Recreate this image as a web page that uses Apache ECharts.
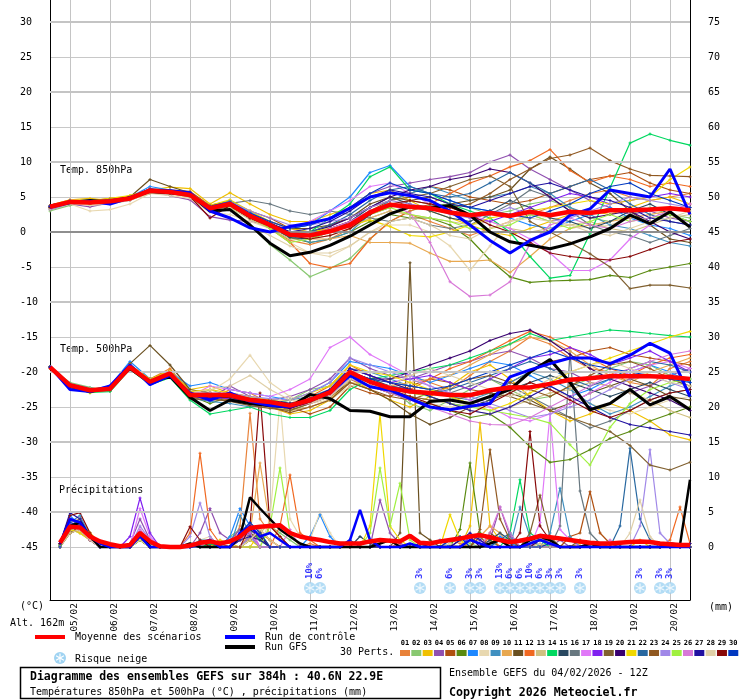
<!DOCTYPE html>
<html><head><meta charset="utf-8">
<script src="https://cdn.jsdelivr.net/npm/echarts@6/dist/echarts.min.js"></script>
<style>html,body{margin:0;padding:0;background:#fff}#c{width:740px;height:700px}</style>
</head><body><div id="c"></div>
<script>
// ---- tick / category labels ----
const dateLabels = ['05/02','06/02','07/02','08/02','09/02','10/02','11/02','12/02','13/02','14/02','15/02','16/02','17/02','18/02','19/02','20/02'];
// ---- snow risk (6h step index, %) ----
const snowIdx = [26,27,37,40,42,43,45,46,47,48,49,50,51,53,59,61,62];
const snowPct = [10,6,3,6,3,3,13,6,6,10,6,3,3,3,3,3,3];
// ---- member colours ----
const pertColors = ['#e8823a','#88c870','#f0c000','#9050b0','#b05010','#5a8a10','#1e88ff','#e8d8b0','#4090c0','#e8a850','#6a5020','#f06820','#d0c080','#00d860','#284860','#687880','#e078f8','#8020f0','#806030','#380070','#f0d800','#2868a0','#905820','#a088e8','#a0f040','#d878d8','#2010a0','#e0d0a8','#880808','#0038c0'];

// ---- 850 hPa (12h steps) ----
const meanT850 = [3.6,4.3,4.2,4.4,4.8,5.9,5.7,5.3,3.4,4.0,2.3,1.0,-0.4,-0.5,0.1,1.0,2.8,3.9,3.6,3.4,2.8,2.4,2.7,2.3,2.9,2.4,2.9,2.7,3.1,3.1,3.2,3.4,3.1];
const ctrlT850 = [3.5,4.2,4.4,4.0,4.9,6.0,5.9,5.6,3.0,2.0,0.6,0.0,0.8,1.3,1.9,3.4,5.0,5.6,5.2,4.5,3.0,1.0,-1.2,-3.0,-1.2,0.0,2.4,3.3,6.0,5.5,5.0,9.0,2.5];
const gfsT850 = [3.7,4.2,4.5,4.3,4.9,5.8,5.6,5.4,3.0,3.2,1.0,-1.6,-3.4,-2.9,-1.9,-0.6,1.0,2.6,3.6,3.5,3.8,2.4,0.0,-1.4,-1.9,-2.4,-1.7,-0.7,0.5,2.4,1.2,2.9,0.7];
const t850_01 = [3.4,4.5,4.0,4.6,4.9,6.2,5.5,5.0,3.0,3.6,2.0,0.5,-1.2,-1.8,-1.0,0.5,2.0,3.0,2.5,1.5,0.5,-0.5,0.5,1.5,2.5,3.5,4.5,5.5,6.0,5.0,4.5,5.0,5.5];
const t850_02 = [3.0,3.8,4.2,4.0,4.6,5.6,5.4,5.5,3.6,3.5,1.0,-1.8,-4.0,-6.4,-5.2,-3.8,-1.0,1.5,3.0,3.8,4.0,3.5,2.5,3.0,4.0,4.5,3.5,2.0,1.5,2.5,3.5,2.5,2.0];
const t850_03 = [3.8,4.6,4.8,4.5,5.2,6.0,6.4,6.2,4.0,5.6,4.0,2.5,1.5,1.5,2.5,3.5,5.5,6.0,4.5,3.0,2.0,1.0,0.0,-0.5,0.5,1.5,2.5,3.0,2.5,3.5,4.5,5.0,4.0];
const t850_04 = [3.2,4.0,3.6,4.2,4.5,5.8,5.2,4.6,2.2,1.7,1.5,1.0,0.5,1.0,2.0,3.5,5.5,6.5,7.0,7.5,7.9,8.5,10.0,11.0,9.0,7.5,6.0,4.5,3.5,2.5,3.0,2.0,1.5];
const t850_05 = [3.6,4.2,4.4,4.8,5.0,6.0,6.0,5.8,3.8,4.4,3.0,2.0,0.5,0.0,0.5,1.5,3.0,4.5,5.5,6.5,6.0,5.0,4.5,4.0,4.5,5.5,6.5,7.5,8.0,8.5,7.0,6.0,5.5];
const t850_06 = [3.5,4.2,4.0,4.3,4.6,5.6,5.5,5.0,3.0,3.6,2.2,0.8,-0.8,-1.5,-1.0,0.0,1.5,2.5,2.0,2.0,1.0,-1.0,-4.0,-6.4,-7.2,-7.0,-6.9,-6.8,-6.2,-6.5,-5.5,-5.0,-4.5];
const t850_07 = [3.6,4.4,4.5,4.6,5.0,6.5,6.0,5.6,3.5,4.5,2.8,1.5,0.5,1.0,3.0,5.0,8.5,9.5,6.5,5.5,4.5,3.5,3.0,2.0,1.0,0.5,1.5,2.5,3.5,2.0,1.0,0.5,-0.5];
const t850_08 = [3.3,4.0,3.0,3.2,4.0,5.5,5.2,4.8,2.8,2.5,1.5,0.5,-1.5,-3.0,-3.5,-2.0,0.0,1.0,1.0,0.0,-2.0,-5.5,-2.0,1.5,2.5,2.0,1.0,0.5,1.0,2.0,2.5,3.0,3.5];
const t850_09 = [3.7,4.4,4.3,4.4,4.9,6.0,5.8,5.4,3.6,4.2,2.5,1.2,-0.5,-1.5,-1.0,0.0,2.5,4.5,5.5,6.5,5.5,4.5,5.0,5.5,6.5,5.5,3.5,2.5,1.0,0.5,-0.5,-1.5,-2.0];
const t850_10 = [3.5,4.3,4.1,4.5,4.8,5.7,5.6,5.2,3.2,3.9,2.0,0.5,-0.5,-1.0,-1.0,-0.5,-1.5,-1.5,-1.6,-3.0,-4.2,-4.2,-4.0,-5.8,-3.5,-1.0,0.5,1.0,1.5,2.0,2.5,3.0,3.5];
const t850_11 = [3.6,4.5,4.4,4.6,5.0,7.5,6.5,5.6,3.4,4.0,2.5,1.5,0.5,0.5,1.0,2.0,4.0,5.0,4.5,5.0,4.0,4.5,5.0,6.0,9.0,10.7,9.0,7.0,5.5,3.0,1.0,-1.0,-1.5];
const t850_12 = [3.7,4.4,4.3,4.4,4.8,6.2,5.8,5.2,3.3,3.8,2.2,0.5,-1.5,-4.5,-5.1,-4.5,-1.0,1.5,3.0,4.0,5.5,7.0,8.0,9.3,10.2,11.8,8.8,7.1,8.0,7.5,6.5,7.0,6.5];
const t850_13 = [3.6,4.2,4.0,4.2,4.6,5.5,5.6,5.0,3.0,3.5,1.8,0.5,-1.0,-1.0,-0.5,0.5,2.0,3.0,2.5,2.0,1.5,1.0,1.5,0.5,0.0,0.5,1.0,1.5,0.5,0.0,1.0,2.0,2.5];
const t850_14 = [3.4,4.1,4.3,4.5,4.9,5.9,5.7,5.4,3.5,4.2,2.3,1.0,-0.5,0.0,2.0,4.0,7.9,9.3,6.0,5.5,4.0,3.0,2.0,0.0,-3.5,-6.6,-6.2,-0.2,6.3,12.7,14.0,13.1,12.4];
const t850_15 = [3.5,4.3,4.2,4.3,4.7,5.8,5.6,5.1,3.2,3.8,2.0,0.8,-0.8,-1.0,0.0,1.5,3.5,5.0,4.0,3.0,2.0,1.5,3.0,4.5,3.5,2.0,1.5,0.5,1.5,3.0,4.0,2.5,1.5];
const t850_16 = [3.6,4.4,4.3,4.5,4.9,5.9,5.8,5.4,3.5,4.1,4.5,4.0,3.0,2.5,3.0,2.5,2.0,1.5,2.0,1.0,0.5,1.0,2.5,4.0,6.0,5.0,3.0,1.0,0.0,-0.5,-1.5,-0.5,0.5];
const t850_17 = [3.4,4.6,4.4,4.5,4.8,5.8,5.5,5.0,3.3,3.8,2.5,1.5,0.5,1.5,3.0,4.5,6.5,7.0,5.5,4.0,3.0,2.5,1.5,0.5,-1.0,-3.0,-5.5,-5.5,-4.0,-1.0,1.0,3.0,4.0];
const t850_18 = [3.7,4.4,4.2,4.3,4.7,5.9,5.7,5.3,3.4,4.0,2.3,1.0,-0.3,-0.5,0.5,1.5,3.0,4.0,3.5,3.5,3.0,2.0,1.5,2.5,3.5,4.5,5.5,5.0,4.0,4.5,5.0,5.5,5.0];
const t850_19 = [3.5,4.2,4.2,4.4,4.8,5.8,5.7,5.2,3.4,4.0,2.4,1.2,0.0,0.0,1.0,2.0,3.5,4.5,5.0,5.5,6.5,7.5,8.0,6.5,1.5,0.0,-1.5,-3.1,-5.0,-8.1,-7.6,-7.6,-8.0];
const t850_20 = [3.6,4.3,4.3,4.4,4.8,5.9,5.8,5.3,3.5,4.0,2.5,1.3,0.0,0.0,0.8,2.0,3.5,5.0,6.0,6.5,7.5,8.0,9.0,8.5,7.0,5.0,3.0,2.0,2.5,3.0,1.5,0.0,-1.0];
const t850_21 = [3.8,4.6,4.5,4.8,5.2,6.0,5.9,5.5,3.8,4.6,3.0,1.5,0.5,0.0,0.5,1.0,1.7,0.8,-0.5,-0.7,0.0,1.0,2.0,2.5,3.0,3.5,4.0,4.5,4.0,4.5,5.0,7.5,9.3];
const t850_22 = [3.6,4.3,4.2,4.4,4.8,5.9,5.7,5.3,3.3,4.0,2.4,1.0,-0.2,0.0,1.0,2.5,4.5,6.0,6.5,5.5,5.0,5.5,7.0,8.5,7.0,5.5,6.5,7.5,6.0,4.0,2.5,1.5,1.0];
const t850_23 = [3.5,4.2,4.1,4.4,4.8,5.8,5.6,5.3,3.3,3.9,2.2,1.0,-0.5,-0.5,0.5,1.5,2.5,3.5,4.5,4.0,3.5,4.0,5.5,7.5,9.0,10.5,11.0,12.0,10.2,9.0,8.1,8.0,7.9];
const t850_24 = [3.7,4.5,4.4,4.5,4.9,6.0,5.8,5.4,3.6,4.3,3.0,2.0,1.0,1.0,1.5,2.0,3.5,4.5,4.0,3.5,2.5,2.0,2.5,3.5,2.5,1.5,2.0,3.0,4.0,5.0,4.5,4.0,3.5];
const t850_25 = [3.5,4.4,4.3,4.5,4.9,5.9,5.7,5.3,3.4,4.0,2.3,0.5,-1.5,-1.0,0.0,1.0,2.5,3.5,2.5,2.0,1.5,0.5,0.5,1.0,2.5,1.5,0.5,1.5,2.5,1.5,2.0,2.5,1.5];
const t850_26 = [3.6,4.4,4.3,4.4,4.8,5.8,5.6,5.2,3.3,3.9,2.2,0.8,-0.5,-0.5,0.5,1.5,3.0,4.0,2.7,-1.5,-7.1,-9.2,-9.0,-7.1,-1.7,1.0,2.0,1.0,0.5,1.5,2.0,3.0,4.0];
const t850_27 = [3.6,4.3,4.2,4.4,4.8,5.9,5.7,5.3,3.5,4.1,2.5,1.2,0.0,0.5,1.5,3.0,5.0,6.0,5.5,5.0,4.0,3.5,4.5,5.5,6.5,7.0,6.0,5.0,4.5,3.5,2.0,1.5,1.0];
const t850_28 = [3.4,4.1,3.8,4.0,4.5,5.6,5.4,5.0,3.0,3.4,1.0,-0.5,-2.0,-3.0,-3.0,-2.0,0.0,1.5,2.0,1.0,-0.5,-1.0,0.5,1.5,2.0,1.5,1.0,0.0,-0.5,0.5,1.5,2.0,3.0];
const t850_29 = [3.5,4.2,4.1,4.3,4.7,5.7,5.5,5.1,2.0,3.8,2.0,0.8,-0.5,-1.0,-0.5,0.5,2.5,4.0,4.5,4.0,3.5,2.5,1.0,0.0,-1.5,-3.0,-3.5,-3.8,-4.0,-3.5,-2.5,-1.5,-1.0];
const t850_30 = [3.7,4.5,4.4,4.6,5.0,6.1,5.9,5.5,3.7,4.3,2.7,1.5,0.5,1.0,2.0,3.5,5.5,7.0,6.0,5.5,4.5,3.5,3.0,2.5,2.0,3.0,4.0,5.5,6.5,7.0,5.5,4.5,3.5];

// ---- 500 hPa (12h steps) ----
const meanT500 = [-19.3,-21.9,-22.6,-22.4,-19.3,-21.4,-20.2,-23.3,-23.3,-23.3,-24.0,-24.3,-24.8,-24.0,-22.9,-20.0,-21.4,-22.3,-22.8,-23.0,-23.3,-23.3,-22.6,-22.2,-22.2,-21.7,-21.1,-20.9,-20.6,-20.6,-20.6,-20.7,-21.0];
const ctrlT500 = [-19.2,-22.5,-22.8,-22.0,-19.0,-21.8,-20.5,-23.0,-24.0,-23.0,-24.2,-24.8,-25.0,-24.0,-23.0,-20.5,-22.1,-22.6,-23.8,-25.0,-25.4,-24.9,-24.5,-20.7,-19.7,-18.8,-18.0,-18.0,-18.8,-17.6,-15.9,-17.3,-23.5];
const gfsT500 = [-19.3,-22.0,-22.8,-22.2,-19.5,-21.5,-20.6,-23.6,-25.5,-24.0,-24.5,-24.8,-25.0,-23.2,-23.8,-25.5,-25.6,-26.4,-26.4,-24.2,-24.0,-24.5,-23.5,-22.5,-20.0,-18.2,-21.5,-25.4,-24.5,-22.5,-24.7,-23.5,-25.4];
const t500_01 = [-19.2,-22.3,-22.8,-22.0,-19.0,-21.0,-19.5,-23.0,-24.0,-22.5,-23.0,-24.5,-25.5,-25.0,-24.0,-21.5,-22.0,-21.0,-20.5,-21.5,-22.5,-20.5,-18.5,-17.0,-15.0,-16.0,-18.0,-19.5,-20.0,-21.5,-22.0,-19.5,-18.5];
const t500_02 = [-19.4,-21.5,-22.2,-22.8,-19.6,-21.8,-20.8,-23.8,-22.5,-23.5,-24.5,-24.8,-24.0,-22.5,-22.0,-19.5,-20.5,-22.5,-24.5,-25.5,-24.0,-22.5,-21.0,-22.5,-24.0,-23.5,-22.0,-21.0,-19.5,-18.5,-19.0,-20.5,-22.5];
const t500_03 = [-19.3,-22.0,-23.0,-22.5,-19.5,-21.5,-20.0,-22.5,-22.0,-23.0,-23.5,-25.0,-26.0,-25.5,-24.0,-21.0,-22.5,-24.0,-25.0,-23.5,-22.0,-20.0,-19.0,-21.0,-23.5,-25.5,-27.0,-26.0,-24.5,-25.5,-27.0,-29.0,-29.7];
const t500_04 = [-19.2,-22.0,-22.4,-22.6,-19.0,-21.0,-20.5,-23.5,-23.8,-22.0,-23.5,-24.0,-23.5,-22.5,-21.0,-18.0,-19.5,-20.5,-21.0,-20.0,-19.0,-18.5,-17.5,-17.0,-18.0,-19.5,-20.0,-21.5,-22.0,-23.0,-22.0,-20.5,-19.5];
const t500_05 = [-19.3,-21.8,-22.5,-22.3,-19.5,-21.0,-19.8,-22.8,-23.5,-24.0,-24.5,-24.0,-25.0,-26.0,-25.0,-22.0,-23.0,-23.5,-22.0,-21.0,-21.5,-22.5,-23.0,-21.5,-20.0,-18.5,-18.0,-17.0,-16.5,-17.5,-18.0,-18.5,-19.0];
const t500_06 = [-19.4,-22.1,-22.9,-22.2,-19.2,-21.6,-20.4,-23.4,-24.5,-23.5,-24.2,-25.0,-25.5,-24.5,-23.5,-21.0,-22.0,-23.0,-24.0,-24.5,-25.5,-26.5,-26.0,-27.9,-30.7,-32.9,-32.5,-31.1,-29.5,-28.5,-27.0,-26.0,-25.0];
const t500_07 = [-19.2,-22.2,-22.5,-22.0,-18.5,-21.0,-20.0,-22.0,-21.5,-22.5,-23.0,-23.5,-24.0,-23.0,-21.5,-18.5,-19.0,-19.5,-20.5,-21.5,-20.5,-19.5,-18.5,-19.0,-20.5,-22.0,-23.5,-22.5,-21.0,-20.0,-19.0,-20.0,-21.5];
const t500_08 = [-19.3,-22.0,-22.7,-22.4,-19.4,-21.3,-20.3,-23.2,-22.8,-21.0,-17.6,-21.5,-23.5,-24.5,-24.0,-22.0,-21.5,-22.5,-23.5,-24.5,-25.0,-24.5,-23.5,-22.5,-21.5,-22.5,-23.5,-24.5,-25.5,-26.0,-25.0,-24.0,-23.5];
const t500_09 = [-19.3,-21.7,-22.3,-22.6,-19.3,-21.7,-20.6,-23.7,-24.2,-24.5,-25.0,-24.5,-24.0,-23.5,-22.5,-19.5,-20.0,-21.0,-22.0,-22.5,-23.5,-24.0,-23.0,-21.5,-20.0,-21.0,-22.5,-24.5,-26.0,-25.0,-23.5,-22.0,-21.0];
const t500_10 = [-19.2,-21.9,-22.6,-22.3,-19.1,-21.2,-20.1,-23.1,-23.0,-23.5,-24.3,-24.0,-25.0,-24.5,-23.0,-20.5,-21.5,-22.0,-21.5,-21.0,-20.5,-19.0,-17.5,-16.0,-15.0,-15.5,-17.0,-19.0,-20.5,-21.5,-20.0,-19.0,-18.0];
const t500_11 = [-19.3,-22.2,-22.8,-22.5,-18.8,-16.2,-19.0,-22.5,-23.0,-23.8,-24.5,-24.8,-25.0,-24.0,-23.5,-21.5,-22.5,-24.0,-26.0,-27.5,-26.5,-25.0,-24.0,-23.0,-24.0,-25.5,-24.5,-23.0,-22.0,-21.0,-22.0,-23.5,-24.0];
const t500_12 = [-19.3,-22.0,-22.6,-22.2,-19.3,-21.4,-20.0,-23.0,-23.5,-23.0,-24.0,-24.5,-24.5,-23.5,-22.0,-19.0,-20.5,-21.5,-22.5,-21.0,-19.5,-18.5,-17.0,-15.5,-14.2,-15.0,-16.5,-18.0,-19.5,-20.5,-19.0,-18.0,-17.5];
const t500_13 = [-19.3,-21.8,-22.4,-22.5,-19.4,-21.5,-20.5,-23.5,-23.0,-23.5,-24.5,-25.0,-25.5,-25.0,-24.0,-21.5,-22.0,-22.5,-23.5,-24.0,-24.5,-25.5,-26.0,-25.0,-24.0,-23.0,-22.5,-21.5,-22.0,-23.0,-24.0,-25.5,-26.5];
const t500_14 = [-19.4,-22.3,-22.9,-22.8,-19.6,-21.8,-20.8,-24.0,-26.0,-25.5,-25.0,-26.0,-26.5,-26.5,-25.5,-22.5,-21.0,-20.5,-20.0,-19.5,-19.0,-18.0,-17.0,-16.0,-14.5,-15.5,-15.0,-14.5,-14.0,-14.2,-14.5,-14.8,-15.0];
const t500_15 = [-19.3,-22.0,-22.6,-22.4,-19.2,-21.2,-20.2,-23.3,-23.5,-23.0,-23.8,-24.0,-24.5,-24.0,-23.0,-20.0,-21.0,-22.0,-22.5,-23.5,-24.5,-25.0,-24.0,-22.5,-21.5,-20.5,-21.5,-22.5,-23.5,-22.5,-21.5,-22.5,-23.5];
const t500_16 = [-19.2,-21.9,-22.5,-22.3,-19.2,-21.3,-20.1,-23.0,-23.2,-23.3,-23.8,-24.2,-24.5,-23.8,-22.5,-19.5,-20.5,-21.5,-22.0,-22.5,-23.0,-22.0,-21.0,-22.0,-23.5,-25.0,-26.5,-28.0,-27.0,-25.5,-24.0,-23.0,-22.5];
const t500_17 = [-19.3,-22.1,-22.7,-22.4,-19.5,-21.5,-20.3,-23.5,-22.0,-22.5,-23.0,-23.5,-22.5,-21.0,-16.5,-15.0,-17.5,-19.0,-20.5,-22.0,-23.0,-24.0,-25.0,-26.5,-27.0,-26.0,-24.5,-23.0,-21.5,-20.0,-19.0,-18.5,-19.5];
const t500_18 = [-19.3,-21.9,-22.6,-22.4,-19.3,-21.4,-20.2,-23.3,-23.6,-23.8,-24.3,-24.6,-25.0,-24.0,-22.5,-19.5,-20.5,-21.5,-21.0,-20.5,-21.5,-22.5,-21.0,-19.5,-18.0,-17.5,-16.5,-17.5,-19.0,-18.0,-17.0,-18.5,-20.0];
const t500_19 = [-19.4,-22.2,-22.8,-22.6,-19.3,-21.6,-20.4,-23.6,-23.8,-24.2,-24.8,-25.2,-25.5,-24.5,-23.5,-21.0,-22.0,-23.0,-23.5,-24.0,-24.0,-23.5,-23.0,-23.5,-24.5,-25.5,-26.5,-27.5,-28.5,-30.5,-33.3,-34.0,-32.9];
const t500_20 = [-19.3,-22.0,-22.6,-22.3,-19.2,-21.3,-20.1,-23.1,-23.3,-23.2,-23.8,-24.0,-24.5,-24.0,-22.8,-20.0,-21.0,-21.0,-20.0,-19.0,-18.0,-17.0,-15.5,-14.5,-14.0,-15.5,-17.5,-19.5,-21.0,-22.0,-23.0,-24.0,-25.5];
const t500_21 = [-19.2,-21.8,-22.4,-22.2,-19.0,-21.0,-19.8,-22.8,-22.5,-23.0,-23.5,-24.0,-24.0,-23.0,-22.0,-19.0,-20.0,-20.5,-21.5,-22.5,-23.5,-24.5,-25.5,-24.5,-23.0,-21.5,-20.0,-19.0,-18.0,-17.0,-16.0,-15.0,-14.2];
const t500_22 = [-19.3,-22.0,-22.7,-22.5,-19.4,-21.5,-20.3,-23.4,-23.5,-23.6,-24.2,-24.6,-25.0,-24.2,-23.0,-20.5,-21.5,-22.0,-22.5,-23.0,-22.5,-21.5,-20.5,-19.5,-18.5,-19.5,-21.0,-22.0,-21.0,-19.5,-18.5,-19.0,-20.0];
const t500_23 = [-19.3,-22.1,-22.8,-22.6,-19.5,-21.6,-20.5,-23.8,-24.0,-24.0,-24.6,-25.0,-25.8,-25.0,-24.0,-21.5,-22.5,-23.5,-24.0,-23.0,-22.0,-21.0,-20.5,-21.5,-22.5,-23.5,-22.0,-20.5,-19.0,-18.5,-19.5,-21.0,-22.0];
const t500_24 = [-19.3,-21.9,-22.5,-22.3,-19.2,-21.3,-20.0,-23.0,-23.0,-23.0,-23.5,-23.8,-24.0,-23.0,-21.5,-18.0,-19.0,-20.0,-21.0,-22.0,-23.0,-23.5,-24.5,-25.5,-26.5,-26.0,-25.0,-24.0,-22.5,-21.0,-20.5,-21.5,-22.5];
const t500_25 = [-19.3,-22.0,-22.6,-22.4,-19.3,-21.4,-20.2,-23.2,-23.2,-23.1,-23.8,-24.3,-24.8,-24.0,-23.0,-20.5,-21.5,-22.5,-23.0,-23.5,-24.5,-25.0,-25.5,-26.0,-26.5,-27.3,-30.4,-33.3,-27.9,-24.5,-22.5,-21.5,-21.0];
const t500_26 = [-19.4,-22.0,-22.7,-22.5,-19.4,-21.5,-20.4,-23.5,-23.8,-23.5,-24.0,-24.5,-25.0,-24.5,-23.5,-21.0,-22.0,-23.0,-24.0,-25.0,-26.0,-27.0,-27.5,-27.6,-26.5,-25.0,-23.5,-22.0,-20.5,-19.5,-18.5,-17.5,-17.0];
const t500_27 = [-19.3,-22.0,-22.6,-22.4,-19.3,-21.4,-20.2,-23.3,-23.4,-23.3,-24.0,-24.3,-24.7,-23.8,-22.5,-19.5,-20.5,-21.5,-22.5,-23.5,-24.5,-25.5,-26.0,-25.0,-23.5,-22.0,-23.5,-25.0,-26.5,-27.5,-28.0,-28.5,-29.0];
const t500_28 = [-19.3,-21.9,-22.5,-22.3,-19.2,-21.2,-20.0,-23.0,-22.5,-22.0,-20.5,-22.5,-24.0,-24.5,-23.5,-21.0,-21.5,-22.0,-20.5,-19.5,-20.5,-21.5,-22.5,-23.5,-22.5,-21.0,-20.0,-19.0,-18.5,-19.5,-20.5,-21.5,-22.0];
const t500_29 = [-19.3,-22.1,-22.7,-22.5,-19.4,-21.5,-20.3,-23.5,-23.7,-23.6,-24.3,-24.8,-25.2,-24.3,-23.0,-20.5,-21.5,-22.5,-23.5,-24.5,-25.5,-26.0,-24.5,-23.0,-21.5,-22.5,-24.0,-25.5,-26.5,-25.5,-24.0,-23.0,-22.5];
const t500_30 = [-19.3,-22.0,-22.6,-22.4,-19.3,-21.4,-20.2,-23.3,-23.3,-23.3,-24.0,-24.3,-24.8,-24.0,-22.9,-20.0,-21.0,-21.5,-22.0,-22.5,-22.0,-21.0,-20.0,-19.0,-18.0,-17.0,-18.0,-19.0,-19.5,-20.0,-20.5,-21.0,-21.5];

// ---- precipitation (6h steps, index 1..64) ----
const meanPr = [null,0.6,2.9,2.8,1.5,0.8,0.4,0.1,0.3,2.0,0.8,0.1,0,0,0.2,0.6,0.8,0.5,0.8,1.5,2.7,2.9,3.0,3.1,2.0,1.5,1.2,1.0,0.7,0.5,0.5,0.5,0.8,1.0,0.9,0.8,1.6,0.6,0.5,0.8,1.0,1.2,1.5,1.7,1.4,1.0,0.7,0.9,1.2,1.6,1.4,1.2,1.0,0.8,0.6,0.5,0.5,0.6,0.7,0.8,0.7,0.5,0.4,0.3,0.3];
// sparse [step, mm]; unlisted steps are dry (0 mm)
const ctrlPr = [[1,0.5],[2,4.0],[3,3.5],[4,1.5],[5,0.5],[9,1.5],[15,0.5],[16,1.0],[19,2.0],[20,3.0],[21,1.5],[22,2.0],[23,1.0],[30,1.0],[31,5.3],[32,1.0],[36,0.5],[42,1.0],[43,0.5],[48,0.5],[49,1.0],[50,0.5]];
const gfsPr = [[1,0.5],[2,3.0],[3,3.5],[4,1.5],[9,2.0],[14,0.5],[19,1.5],[20,7.1],[21,5.5],[22,4.0],[23,2.5],[24,1.5],[25,0.5],[33,0.5],[34,1.0],[44,0.5],[45,1.0],[48,1.0],[49,1.5],[50,1.0],[54,0.5],[62,0.5],[63,0.3],[64,9.6]];
const pr01 = [[1,0.5],[2,3.5],[3,4.0],[4,2.0],[5,0.5],[9,1.5],[10,0.5],[16,1.0],[17,0.5],[19,3.0],[20,19.1],[21,4.0],[22,2.0],[23,1.0],[26,0.5],[35,0.5],[40,1.0],[41,0.5],[44,1.0],[49,1.5],[50,0.5]];
const pr02 = [[1,0.3],[2,2.5],[3,2.0],[4,1.0],[9,1.0],[16,0.5],[18,1.5],[19,2.5],[20,1.5],[22,3.0],[23,2.0],[24,1.0],[40,0.5],[41,1.5],[42,0.5],[48,1.0],[56,0.5]];
const pr03 = [[1,0.5],[2,2.0],[3,3.0],[4,2.0],[5,0.5],[9,1.0],[15,0.5],[17,1.0],[18,0.5],[21,2.0],[22,1.0],[42,3.0],[43,17.7],[44,3.0],[45,1.0],[53,0.5],[54,0.5]];
const pr04 = [[1,0.5],[2,3.0],[3,3.5],[4,1.5],[8,0.5],[9,4.0],[10,1.0],[15,2.0],[16,5.5],[17,2.0],[18,1.0],[19,2.5],[20,1.5],[33,6.7],[34,2.0],[35,0.5],[44,1.0],[45,5.7],[46,1.5],[51,1.0]];
const pr05 = [[2,2.5],[3,3.0],[4,1.0],[9,1.5],[16,0.5],[20,1.5],[21,2.5],[22,1.0],[47,1.0],[52,1.5],[53,2.0],[54,7.9],[55,2.0],[56,0.5]];
const pr06 = [[1,0.3],[2,2.0],[3,2.5],[4,1.0],[9,1.0],[16,0.5],[19,1.0],[20,2.0],[21,1.0],[41,2.5],[42,12.0],[43,2.0],[44,1.0],[50,0.5]];
const pr07 = [[1,0.5],[2,4.5],[3,3.0],[4,1.0],[9,2.0],[10,0.5],[18,1.5],[19,5.5],[20,3.0],[21,1.5],[26,1.5],[27,4.6],[28,1.5],[38,0.5],[39,1.0],[45,1.5],[46,0.5]];
const pr08 = [[2,2.0],[3,2.5],[4,1.5],[9,1.0],[15,1.0],[16,1.5],[22,4.0],[23,21.0],[24,4.0],[25,1.5],[26,1.0],[27,5.0],[28,2.0],[40,0.5]];
const pr09 = [[1,0.5],[2,3.5],[3,4.5],[4,1.5],[9,1.5],[15,1.0],[16,1.0],[19,4.5],[20,2.0],[47,5.7],[48,1.5],[50,2.0],[51,8.4],[52,1.5]];
const pr10 = [[2,3.0],[3,2.0],[4,1.0],[9,1.0],[20,2.0],[21,12.0],[22,3.0],[23,1.5],[43,1.5],[44,3.0],[45,2.0],[50,1.0]];
const pr11 = [[1,0.3],[2,2.5],[3,3.5],[4,1.0],[9,1.5],[10,0.5],[16,0.5],[20,1.0],[21,1.5],[35,2.0],[36,40.6],[37,2.0],[38,1.0],[44,2.0],[45,1.0]];
const pr12 = [[1,0.5],[2,3.0],[3,2.5],[4,1.0],[9,1.5],[14,2.0],[15,13.4],[16,2.5],[17,0.5],[23,3.0],[24,10.3],[25,2.0],[26,1.0],[44,1.5],[62,1.0],[63,5.7],[64,0.5]];
const pr13 = [[2,2.0],[3,2.5],[4,1.5],[9,1.0],[16,1.0],[20,1.5],[21,2.0],[22,3.5],[23,1.5],[42,1.0],[43,1.0],[49,0.5]];
const pr14 = [[1,0.3],[2,3.0],[3,3.0],[4,1.5],[9,1.0],[16,0.5],[19,1.5],[20,2.5],[21,1.0],[46,2.0],[47,9.6],[48,2.0],[49,1.0]];
const pr15 = [[2,3.5],[3,3.0],[4,1.0],[9,1.0],[19,1.0],[20,2.0],[31,1.5],[32,0.5],[44,1.0],[45,2.0],[46,1.0]];
const pr16 = [[2,2.5],[3,3.0],[4,1.5],[9,1.5],[20,1.0],[21,1.5],[51,3.0],[52,28.0],[53,8.0],[54,2.0],[55,0.5]];
const pr17 = [[1,0.5],[2,3.5],[3,3.0],[4,1.5],[9,5.5],[10,1.5],[16,1.0],[19,2.0],[20,3.0],[49,3.5],[50,19.0],[51,2.5],[52,1.0]];
const pr18 = [[1,0.5],[2,4.0],[3,3.0],[4,1.0],[8,1.5],[9,7.0],[10,2.0],[16,1.0],[19,1.5],[20,2.0],[42,1.5],[43,1.0]];
const pr19 = [[2,2.0],[3,3.0],[4,1.5],[9,1.0],[20,1.0],[21,2.0],[43,1.5],[48,2.0],[49,7.4],[50,1.5],[53,1.0]];
const pr20 = [[2,3.0],[3,3.5],[4,1.0],[9,2.0],[19,1.5],[20,2.5],[21,1.5],[41,1.0],[42,1.5],[49,1.0],[50,1.0]];
const pr21 = [[2,2.5],[3,2.0],[4,1.0],[9,1.0],[16,1.0],[20,1.0],[32,3.0],[33,19.0],[34,3.0],[35,1.0],[40,4.6],[41,1.0],[59,1.0]];
const pr22 = [[2,3.0],[3,4.0],[4,1.5],[9,1.5],[19,2.0],[20,1.5],[45,1.0],[46,2.0],[57,3.0],[58,14.1],[59,4.0],[60,1.0]];
const pr23 = [[2,2.0],[3,2.5],[4,1.0],[9,1.0],[20,1.5],[21,2.0],[43,2.5],[44,13.9],[45,4.0],[46,1.0]];
const pr24 = [[1,0.5],[2,3.0],[3,2.5],[4,1.0],[9,3.0],[10,1.0],[14,1.5],[15,6.3],[16,1.5],[20,1.5],[59,3.0],[60,13.9],[61,2.0],[62,0.5]];
const pr25 = [[2,2.5],[3,3.0],[4,1.5],[9,1.0],[16,1.0],[22,3.0],[23,11.3],[24,2.0],[32,2.0],[33,11.3],[34,3.0],[35,9.1],[36,1.0]];
const pr26 = [[2,3.0],[3,2.5],[4,1.0],[9,2.5],[10,1.0],[16,1.0],[19,1.0],[20,2.0],[24,2.5],[44,2.0],[45,5.7],[46,2.0],[56,1.0]];
const pr27 = [[1,0.5],[2,4.9],[3,4.0],[4,1.5],[9,2.0],[19,1.0],[20,1.5],[21,1.0],[37,0.5],[41,1.0],[42,2.0],[43,1.0],[64,0.5]];
const pr28 = [[2,2.0],[3,2.5],[4,1.0],[9,1.0],[20,1.0],[21,2.5],[22,1.0],[58,2.0],[59,6.7],[60,1.5]];
const pr29 = [[1,0.5],[2,4.5],[3,4.9],[4,2.0],[9,1.5],[14,2.9],[15,1.0],[20,3.0],[21,22.0],[22,3.0],[23,1.5],[47,2.0],[48,16.5],[49,3.0],[50,1.0]];
const pr30 = [[2,3.5],[3,3.0],[4,1.5],[9,2.0],[19,2.0],[20,3.5],[21,2.0],[30,1.0],[40,1.0],[41,1.5],[50,0.5]];

const t850Perts = [t850_01,t850_02,t850_03,t850_04,t850_05,t850_06,t850_07,t850_08,t850_09,t850_10,t850_11,t850_12,t850_13,t850_14,t850_15,t850_16,t850_17,t850_18,t850_19,t850_20,t850_21,t850_22,t850_23,t850_24,t850_25,t850_26,t850_27,t850_28,t850_29,t850_30];
const t500Perts = [t500_01,t500_02,t500_03,t500_04,t500_05,t500_06,t500_07,t500_08,t500_09,t500_10,t500_11,t500_12,t500_13,t500_14,t500_15,t500_16,t500_17,t500_18,t500_19,t500_20,t500_21,t500_22,t500_23,t500_24,t500_25,t500_26,t500_27,t500_28,t500_29,t500_30];
const prPerts = [pr01,pr02,pr03,pr04,pr05,pr06,pr07,pr08,pr09,pr10,pr11,pr12,pr13,pr14,pr15,pr16,pr17,pr18,pr19,pr20,pr21,pr22,pr23,pr24,pr25,pr26,pr27,pr28,pr29,pr30];

// ---- helpers ----
const MONO = 'DejaVu Sans Mono';
const N6 = 65;
function halfDay(arr){ return arr.map((v,j)=>[j*2, v]); }
function precip(sparse){
  const a = []; for (let i=1;i<N6;i++) a.push([i,0]);
  sparse.forEach(([i,v])=>{ a[i-1][1]=v; });
  return a;
}
const plusSym = 'path://M1,0H2V1H3V2H2V3H1V2H0V1H1Z';
function pertLine(data, color, yIdx){
  return {type:'line', xAxisIndex:0, yAxisIndex:yIdx, data, clip:false, silent:true,
    symbol:plusSym, symbolSize:3, showSymbol:true, itemStyle:{color},
    lineStyle:{color, width:1.2}, emphasis:{disabled:true}, animation:false, z:3};
}
function mainLine(data, color, width, yIdx, z){
  return {type:'line', xAxisIndex:0, yAxisIndex:yIdx, data, clip:false, silent:true,
    symbol:'none', lineStyle:{color, width}, emphasis:{disabled:true}, animation:false, z};
}
const cats = []; for (let i=0;i<N6;i++) cats.push(String(i));
const dayTick = (idx) => idx % 4 === 2;

const series = [];
// horizontal emphasised grid lines (every 10) + zero line
series.push({type:'line', xAxisIndex:0, yAxisIndex:0, data:[[0,null]], silent:true, z:1,
  markLine:{silent:true, symbol:'none', animation:false, label:{show:false},
    data:[30,20,10,-10,-20,-30,-40].map(v=>({yAxis:v, lineStyle:{color:'#c4c4c4', width:2, type:'solid'}}))
      .concat([{yAxis:0, lineStyle:{color:'#8e8e8e', width:2, type:'solid'}}])}});
prPerts.forEach((p,k)=>series.push(pertLine(precip(p), pertColors[k], 1)));
t850Perts.forEach((p,k)=>series.push(pertLine(halfDay(p), pertColors[k], 0)));
t500Perts.forEach((p,k)=>series.push(pertLine(halfDay(p), pertColors[k], 0)));
series.push(mainLine(precip(gfsPr), '#000000', 2.5, 1, 5));
series.push(mainLine(precip(ctrlPr), '#0000ff', 2.5, 1, 5));
series.push(mainLine(halfDay(gfsT850), '#000000', 3, 0, 5));
series.push(mainLine(halfDay(ctrlT850), '#0000ff', 3, 0, 5));
series.push(mainLine(halfDay(gfsT500), '#000000', 3, 0, 5));
series.push(mainLine(halfDay(ctrlT500), '#0000ff', 3, 0, 5));
series.push(mainLine(meanPr.map((v,i)=>[i,v]).filter(d=>d[1]!==null), '#ff0000', 4.5, 1, 6));
series.push(mainLine(halfDay(meanT850), '#ff0000', 4.5, 0, 6));
series.push(mainLine(halfDay(meanT500), '#ff0000', 4.5, 0, 6));
// snow risk
const snowY = -50.86;
const snowData = snowIdx.map((i,k)=>[i, snowY, snowPct[k]]);
series.push({type:'scatter', xAxisIndex:1, yAxisIndex:2, data:snowData, symbol:'circle', symbolSize:12,
  itemStyle:{color:'#9fd3f2'}, silent:true, animation:false, z:6,
  label:{show:true, position:'top', distance:3, rotate:90, align:'left', verticalAlign:'middle',
    formatter:p=>p.value[2]+'%', color:'#0000ff', fontFamily:MONO, fontSize:9, fontWeight:'bold'}});
series.push({type:'scatter', xAxisIndex:1, yAxisIndex:2, data:snowData, symbol:'path://M5,0L5,10M0.67,2.5L9.33,7.5M0.67,7.5L9.33,2.5', symbolSize:9,
  itemStyle:{color:'rgba(0,0,0,0)', borderColor:'#ffffff', borderWidth:1.2}, silent:true, animation:false, z:7});

// ---- legend / texts as graphic ----
const g = [];
function txt(x,y,t,size,bold,align){ g.push({type:'text', x, y, style:{text:t, fill:'#000', font:(bold?'bold ':'')+size+'px "'+MONO+'"', textAlign:align||'left', textVerticalAlign:'middle'}, silent:true}); }
txt(60,170.5,'Temp. 850hPa',10);
txt(60,349.5,'Temp. 500hPa',10);
txt(59,490,'Précipitations',10);
txt(20,606,'(°C)',10);
txt(10,623,'Alt. 162m',10);
txt(709,607,'(mm)',10);
g.push({type:'line', shape:{x1:35,y1:637,x2:65,y2:637}, style:{stroke:'#ff0000', lineWidth:4}, silent:true});
txt(75,637,'Moyenne des scénarios',10);
g.push({type:'line', shape:{x1:225,y1:637,x2:255,y2:637}, style:{stroke:'#0000ff', lineWidth:4}, silent:true});
txt(265,637,'Run de contrôle',10);
g.push({type:'line', shape:{x1:225,y1:647,x2:255,y2:647}, style:{stroke:'#000000', lineWidth:4}, silent:true});
txt(265,647,'Run GFS',10);
g.push({type:'circle', shape:{cx:60,cy:658,r:6}, style:{fill:'#9fd3f2'}, silent:true});
[[60,653.5,60,662.5],[56.1,655.7,63.9,660.3],[56.1,660.3,63.9,655.7]].forEach(s=>g.push({type:'line', shape:{x1:s[0],y1:s[1],x2:s[2],y2:s[3]}, style:{stroke:'#fff', lineWidth:1.2}, silent:true}));
txt(75,659,'Risque neige',10);
txt(340,652,'30 Perts.',10);
pertColors.forEach((c,k)=>{
  const x = 400 + k*11.32;
  g.push({type:'rect', shape:{x, y:650, width:10, height:6}, style:{fill:c}, silent:true});
  txt(x+5, 643.5, String(k+1).padStart(2,'0'), 7, true, 'center');
});
g.push({type:'rect', shape:{x:20.5, y:667.5, width:420, height:31}, style:{fill:'none', stroke:'#000', lineWidth:1.5}, silent:true});
txt(30,677,'Diagramme des ensembles GEFS sur 384h : 40.6N 22.9E',11.5,true);
txt(30,692,'Températures 850hPa et 500hPa (°C) , précipitations (mm)',10);
txt(449,673,'Ensemble GEFS du 04/02/2026 - 12Z',10);
txt(449,693,'Copyright 2026 Meteociel.fr',11.6,true);

const chart = echarts.init(document.getElementById('c'), null, {renderer:'canvas'});
chart.setOption({
  animation:false,
  backgroundColor:'#ffffff',
  grid:[
    {left:50, top:22, width:640, height:525, containLabel:false},
    {left:50, top:0, width:640, height:600, containLabel:false}
  ],
  xAxis:[
    {gridIndex:0, type:'value', min:0, max:64, show:false},
    {gridIndex:1, type:'category', data:cats, boundaryGap:false, position:'bottom',
      axisLine:{show:true, onZero:false, lineStyle:{color:'#000', width:1}},
      axisTick:{show:false},
      splitLine:{show:true, interval:dayTick, lineStyle:{color:'#c4c4c4', width:1}},
      axisLabel:{show:true, interval:dayTick, rotate:90, margin:3, verticalAlign:'top',
        formatter:(v,idx)=> (idx%4===2 ? dateLabels[(idx-2)/4] : ''),
        color:'#000', fontFamily:MONO, fontSize:9.5}}
  ],
  yAxis:[
    {gridIndex:0, type:'value', min:-45, max:30, interval:5, position:'left',
      axisLine:{show:false}, axisTick:{show:false},
      axisLabel:{align:'left', margin:30, color:'#000', fontFamily:MONO, fontSize:10},
      splitLine:{show:true, lineStyle:{color:'#c8c8c8', width:1}}},
    {gridIndex:0, type:'value', min:0, max:75, interval:5, position:'right',
      axisLine:{show:false}, axisTick:{show:false},
      axisLabel:{align:'left', margin:18, color:'#000', fontFamily:MONO, fontSize:10},
      splitLine:{show:false}},
    {gridIndex:1, type:'value', min:-52.5714, max:33.1429, position:'left',
      axisLine:{show:true, onZero:false, lineStyle:{color:'#000', width:1}}, axisTick:{show:false},
      axisLabel:{show:false}, splitLine:{show:false}},
    {gridIndex:1, type:'value', min:-52.5714, max:33.1429, position:'right',
      axisLine:{show:true, onZero:false, lineStyle:{color:'#000', width:1}}, axisTick:{show:false},
      axisLabel:{show:false}, splitLine:{show:false}}
  ],
  series,
  graphic:{elements:g}
});
</script>
</body></html>
